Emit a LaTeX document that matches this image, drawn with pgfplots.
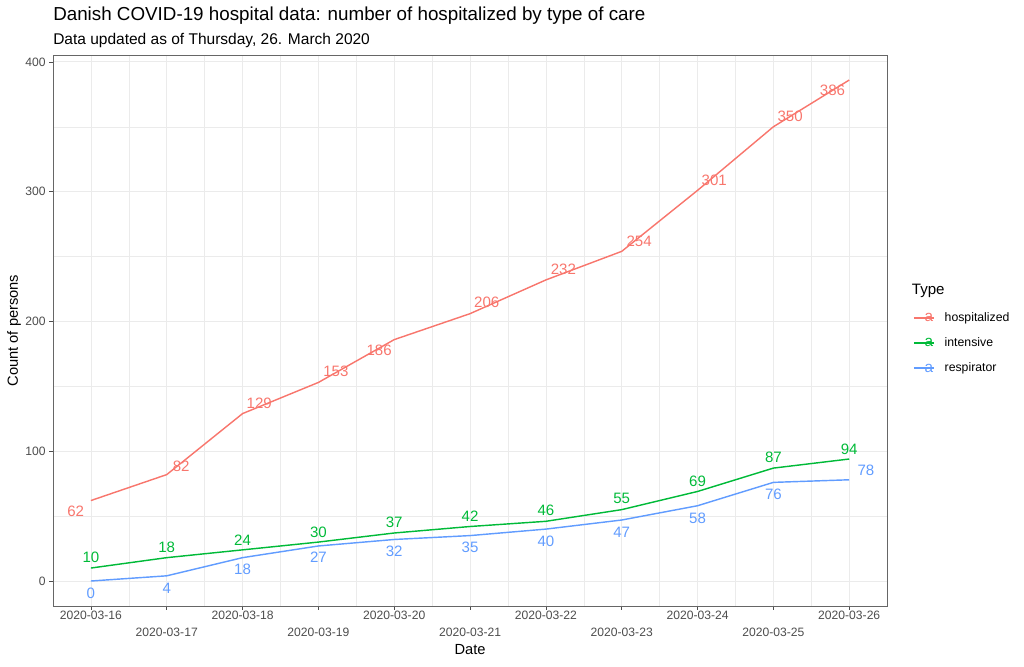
\documentclass[border=0pt]{standalone}
\usepackage{pgfplots}
\pgfplotsset{compat=1.18}
\usepackage{pgfplotstable}
\usepackage{fontspec}
\setmainfont{Liberation Sans}
\definecolor{hosp}{HTML}{F8766D}
\definecolor{inten}{HTML}{00BA38}
\definecolor{resp}{HTML}{619CFF}
\definecolor{gridc}{HTML}{EBEBEB}
\definecolor{tickc}{HTML}{4D4D4D}

\pgfplotstableread{
x y
0 62
1 82
2 129
3 153
4 186
5 206
6 232
7 254
8 301
9 350
10 386
}\hosp
\pgfplotstableread{
x y
0 10
1 18
2 24
3 30
4 37
5 42
6 46
7 55
8 69
9 87
10 94
}\inten
\pgfplotstableread{
x y
0 0
1 4
2 18
3 27
4 32
5 35
6 40
7 47
8 58
9 76
10 78
}\resp
\pgfplotstableread{
x y l
-0.2 53.8 62
1.19 88.5 82
2.22 137 129
3.23 161.5 153
3.80 177.7 186
5.22 214.6 206
6.23 240 232
7.23 262 254
8.22 309 301
9.22 357.7 350
9.78 377.7 386
}\hospl
\pgfplotstableread{
x y l
0 18.5 10
1 26 18
2 31.5 24
3 37.7 30
4 45.4 37
5 50 42
6 54.6 46
7 63.8 55
8 77 69
9 95.4 87
10 101.5 94
}\intenl
\pgfplotstableread{
x y l
0 -9.2 0
1 -5.4 4
2 9.2 18
3 18.5 27
4 23 32
5 26 35
6 30.8 40
7 37.7 47
8 48.5 58
9 67 76
10.22 85.4 78
}\respl

\begin{document}
\begin{tikzpicture}
\path[use as bounding box] (-39.75pt,-45pt) rectangle (728.25pt,454.55pt);
\begin{axis}[
  scale only axis,
  width=625.6pt, height=413.3pt,
  xmin=-0.5, xmax=10.5, ymin=-19.3, ymax=405.3,
  xtick={0,...,10},
  xticklabels={{2020-03-16\\\strut},{\strut\\2020-03-17},{2020-03-18\\\strut},{\strut\\2020-03-19},{2020-03-20\\\strut},{\strut\\2020-03-21},{2020-03-22\\\strut},{\strut\\2020-03-23},{2020-03-24\\\strut},{\strut\\2020-03-25},{2020-03-26\\\strut}},
  ytick={0,100,200,300,400},
  minor x tick num=1, minor y tick num=1,
  minor tick length=0pt,
  major tick length=2.75pt,
  tick align=outside,
  tick pos=left,
  grid=both,
  major grid style={gridc, line width=0.6pt},
  minor grid style={gridc, line width=0.35pt},
  axis line style={black!60, line width=0.7pt},
  tick style={tickc, line width=0.55pt},
  /pgf/number format/assume math mode=true,
  xticklabel style={align=center, font=\fontsize{9.1}{11}\selectfont, text=tickc, inner sep=1pt},
  yticklabel style={font=\fontsize{9.1}{11}\selectfont, text=tickc, inner sep=2.5pt},
  xlabel={Date}, ylabel={Count of persons},
  label style={font=\fontsize{11}{13}\selectfont},
  xlabel style={at={(axis description cs:0.5,0)}, anchor=base, yshift=-36pt},
  ylabel style={at={(axis description cs:-0.0467,0.5)}, anchor=center},
  legend style={at={(axis description cs:1.031,0.536)}, anchor=north west, draw=none, fill=none,
    inner sep=0pt, font=\fontsize{9.2}{11}\selectfont, row sep=8.3pt,
    nodes={inner sep=1pt, text height=6.6pt, text depth=1.9pt},
    /tikz/every odd column/.append style={column sep=6.5pt}},
  legend cell align=left,
  legend image code/.code={
    \draw[#1, line width=1.07pt] (0pt,0pt) -- (15pt,0pt);
    \path[#1] (7.5pt,0pt) node[inner sep=0pt, text height=5.9pt, text depth=0pt, font=\fontsize{11.5}{11.5}\selectfont] {a};
  },
]
\addplot[hosp, line width=1.07pt, mark=none] table[x=x,y=y] {\hosp};
\addlegendentry{hospitalized}
\addplot[inten, line width=1.07pt, mark=none] table[x=x,y=y] {\inten};
\addlegendentry{intensive}
\addplot[resp, line width=1.07pt, mark=none] table[x=x,y=y] {\resp};
\addlegendentry{respirator}

\addplot[forget plot, draw=none, mark=none, nodes near coords, point meta=explicit symbolic,
  nodes near coords style={anchor=center, inner sep=0pt, text=hosp, font=\fontsize{11.3}{13}\selectfont}]
  table[x=x,y=y,meta=l] {\hospl};
\addplot[forget plot, draw=none, mark=none, nodes near coords, point meta=explicit symbolic,
  nodes near coords style={anchor=center, inner sep=0pt, text=inten, font=\fontsize{11.3}{13}\selectfont}]
  table[x=x,y=y,meta=l] {\intenl};
\addplot[forget plot, draw=none, mark=none, nodes near coords, point meta=explicit symbolic,
  nodes near coords style={anchor=center, inner sep=0pt, text=resp, font=\fontsize{11.3}{13}\selectfont}]
  table[x=x,y=y,meta=l] {\respl};
\end{axis}
\node[anchor=base west, inner sep=0pt] at (0pt,439pt) {\fontsize{14.1}{16}\selectfont Danish COVID-19 hospital data: number of hospitalized by type of care};
\node[anchor=base west, inner sep=0pt] at (0pt,421.3pt) {\fontsize{11.63}{13}\selectfont Data updated as of Thursday, 26. March 2020};
\node[anchor=base west, inner sep=0pt] at (644pt,233.3pt) {\fontsize{11.3}{13}\selectfont Type};
\end{tikzpicture}
\end{document}
